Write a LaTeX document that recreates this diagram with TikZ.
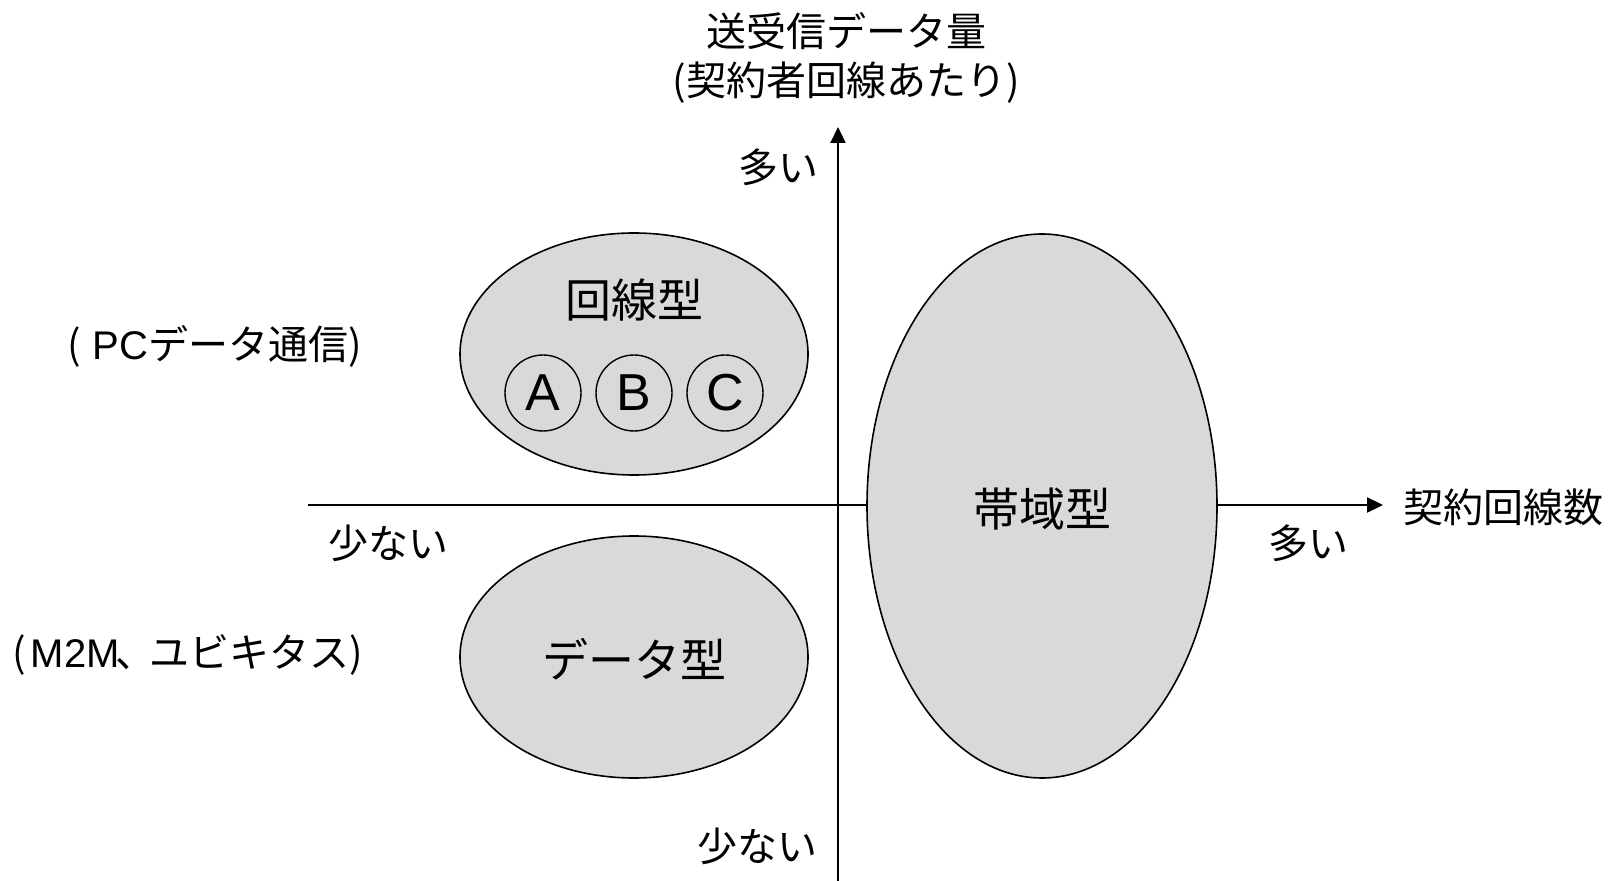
\documentclass[tikz,border=0pt]{standalone}
\usepackage{fontspec}
\setmainfont{Liberation Sans}
\newfontfamily\jp{Noto Sans CJK JP}
\usetikzlibrary{arrows.meta}
\begin{document}
\begin{tikzpicture}[x=0.5pt,y=-0.5pt,
  axis/.style={line width=1.1pt,-{Triangle[length=8pt,width=7.5pt]}},
  blob/.style={draw=black,line width=0.8pt,fill=black!15},
  letter/.style={circle,draw=black,line width=0.7pt,minimum size=38pt,inner sep=0pt,font=\fontsize{26pt}{26pt}\selectfont},
  lbl/.style={inner sep=0pt,anchor=center,font=\jp\fontsize{20pt}{24pt}\selectfont},
  big/.style={inner sep=0pt,anchor=center,font=\jp\fontsize{23pt}{26pt}\selectfont}]
\useasboundingbox (0,0) rectangle (1621,881);
% ellipses
\draw[blob] (634,354) ellipse [x radius=174, y radius=121];
\draw[blob] (634,657) ellipse [x radius=174, y radius=121];
% axes
\coordinate (xs) at (308,505);
\coordinate (xe) at (1383,505);
\coordinate (ys) at (838,881);
\coordinate (ye) at (838,127);
\draw[axis] (xs) -- (xe);
\draw[axis] (ys) -- (ye);
\draw[blob] (1042,506) ellipse [x radius=175, y radius=272];
% labels in ellipses
\node[big] (kaisen) at (634,300) {回線型};
\node[big] (data) at (634,659) {データ型};
\node[big] (taiiki) at (1042,509) {帯域型};
\node[letter] (A) at (543,393) {A};
\node[letter] (B) at (634,393) {B};
\node[letter] (C) at (725,393) {C};
% axis labels
\node[lbl] (yt1) at (846,31) {送受信データ量};
\node[lbl] (yt2) at (846,83) {(契約者回線あたり)};
\node[lbl] (ymany) at (778,167) {多い};
\node[lbl] (yfew) at (757,846) {少ない};
\node[lbl] (xfew) at (388,543) {少ない};
\node[lbl] (xmany) at (1308,543) {多い};
\node[lbl,anchor=west] (xt) at (1403,507) {契約回線数};
\node[lbl,anchor=west] (pc) at (67,346) {(\hspace{0.3em}{\fontspec{Liberation Sans}PC}データ通信)};
\node[lbl,anchor=west] (m2m) at (12,655) {(\hspace{0.12em}{\fontspec{Liberation Sans}M2M}\hspace{-0.1em}、\hspace{-0.15em}ユビキタス)};
\end{tikzpicture}
\end{document}
